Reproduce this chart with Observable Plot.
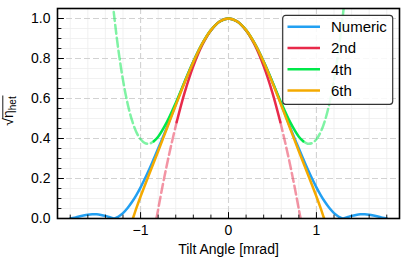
<!DOCTYPE html>
<html><head><meta charset="utf-8">
<script src="https://cdn.jsdelivr.net/npm/d3@7"></script>
<script src="https://cdn.jsdelivr.net/npm/@observablehq/plot@0.6"></script>
<style>body{margin:0;background:#fff;}</style>
</head><body><div id="chart"></div>
<script>
// ---- data ----
const seriesNames = ["Numeric", "2nd", "4th", "6th"];
const seriesColors = ["#22a0f2", "#e82a4a", "#00e84a", "#f4aa00"];
const xMajor = [-1, 0, 1];
const xMinor = [-1.8,-1.6,-1.4,-1.2,-0.8,-0.6,-0.4,-0.2,0.2,0.4,0.6,0.8,1.2,1.4,1.6,1.8];
const yMajor = [0, 0.2, 0.4, 0.6, 0.8, 1.0];
const yMinor = [0.05,0.1,0.15,0.25,0.3,0.35,0.45,0.5,0.55,0.65,0.7,0.75,0.85,0.9,0.95];
const xLabel = "Tilt Angle [mrad]";

const numeric = [[-1.8,0],[-1.75,0.004],[-1.7,0.010],[-1.65,0.015],[-1.6,0.019],[-1.55,0.021],[-1.5,0.021],[-1.45,0.018],[-1.4,0.013],[-1.35,0.006],[-1.3,0],[-1.25,0.010],[-1.2,0.027],[-1.15,0.051],[-1.1,0.081],[-1.05,0.116],[-1.0,0.156],[-0.95,0.200],[-0.9,0.247],[-0.8,0.350],[-0.7,0.457],[-0.6,0.570],[-0.5,0.682],[-0.4,0.785],[-0.3,0.873],[-0.2,0.941],[-0.1,0.985],[0,1],[0.1,0.985],[0.2,0.941],[0.3,0.873],[0.4,0.785],[0.5,0.682],[0.6,0.570],[0.7,0.457],[0.8,0.350],[0.9,0.247],[0.95,0.200],[1.0,0.156],[1.05,0.116],[1.1,0.081],[1.15,0.051],[1.2,0.027],[1.25,0.010],[1.3,0],[1.35,0.006],[1.4,0.013],[1.45,0.018],[1.5,0.021],[1.55,0.021],[1.6,0.019],[1.65,0.015],[1.7,0.010],[1.75,0.004],[1.8,0]];

const second = [[-0.59,0.481],[-0.5,0.628],[-0.4,0.762],[-0.3,0.866],[-0.2,0.940],[-0.1,0.985],[0,1],[0.1,0.985],[0.2,0.940],[0.3,0.866],[0.4,0.762],[0.5,0.628],[0.59,0.481]];
const secondDashLeft = [[-0.82,0],[-0.8,0.046],[-0.75,0.162],[-0.7,0.270],[-0.65,0.370],[-0.59,0.481]];
const secondDashRight = [[0.59,0.481],[0.65,0.370],[0.7,0.270],[0.75,0.162],[0.8,0.046],[0.82,0]];

const fourth = [[-0.85,0.386],[-0.8,0.409],[-0.7,0.483],[-0.6,0.578],[-0.5,0.683],[-0.4,0.784],[-0.3,0.873],[-0.2,0.942],[-0.1,0.985],[0,1],[0.1,0.985],[0.2,0.942],[0.3,0.873],[0.4,0.784],[0.5,0.683],[0.6,0.578],[0.7,0.483],[0.8,0.409],[0.85,0.386]];
const fourthDashLeft = [[-1.35,1.227],[-1.3,1.012],[-1.25,0.835],[-1.2,0.692],[-1.15,0.579],[-1.1,0.494],[-1.05,0.434],[-1.0,0.396],[-0.95,0.377],[-0.9,0.374],[-0.85,0.386]];
const fourthDashRight = [[0.85,0.386],[0.9,0.374],[0.95,0.377],[1.0,0.396],[1.05,0.434],[1.1,0.494],[1.15,0.579],[1.2,0.692],[1.25,0.835],[1.3,1.012],[1.35,1.227]];

const sixth = [[-1.088,0],[-1.08,0.010],[-1.05,0.049],[-1.0,0.110],[-0.9,0.224],[-0.8,0.336],[-0.7,0.451],[-0.6,0.566],[-0.5,0.679],[-0.4,0.783],[-0.3,0.873],[-0.2,0.942],[-0.1,0.985],[0,1],[0.1,0.985],[0.2,0.942],[0.3,0.873],[0.4,0.783],[0.5,0.679],[0.6,0.566],[0.7,0.451],[0.8,0.336],[0.9,0.224],[1.0,0.110],[1.05,0.049],[1.08,0.010],[1.088,0]];

// ---- chart ----
const FONT = "'Liberation Sans', Arial, Helvetica, sans-serif";
const LW = 2.5;
const DASH = "9,4";
const tickUp = {draw(ctx, l) { ctx.moveTo(0, 0); ctx.lineTo(0, -l); }};
const fmtX = d => d < 0 ? "\u2212" + (-d) : String(d);
const line = (data, color, extra = {}) => Plot.line(data, {x: d => d[0], y: d => d[1], stroke: color, strokeWidth: LW, curve: "catmull-rom", clip: true, ...extra});

const plot = Plot.plot({
  width: 408,
  height: 276,
  marginLeft: 57,
  marginRight: 9,
  marginTop: 8,
  marginBottom: 58,
  style: {fontFamily: FONT, fontSize: "14px", color: "#000", background: "#fff"},
  x: {domain: [-1.945, 1.945]},
  y: {domain: [0, 1.05]},
  marks: [
    Plot.ruleX(xMinor, {stroke: "#ededed", strokeWidth: 0.8}),
    Plot.ruleY(yMinor, {stroke: "#ededed", strokeWidth: 0.8}),
    Plot.ruleX(xMajor, {stroke: "#d2d2d2", strokeWidth: 1.1, strokeDasharray: "6,3"}),
    Plot.ruleY(yMajor, {stroke: "#d2d2d2", strokeWidth: 1.1, strokeDasharray: "6,3"}),
    line(numeric, seriesColors[0]),
    line(second, seriesColors[1]),
    line(secondDashLeft, seriesColors[1], {strokeOpacity: 0.5, strokeDasharray: DASH}),
    line(secondDashRight, seriesColors[1], {strokeOpacity: 0.5, strokeDasharray: DASH}),
    line(fourth, seriesColors[2]),
    line(fourthDashLeft, seriesColors[2], {strokeOpacity: 0.5, strokeDasharray: DASH}),
    line(fourthDashRight, seriesColors[2], {strokeOpacity: 0.5, strokeDasharray: DASH}),
    line(sixth, seriesColors[3]),
    Plot.frame({stroke: "#000", strokeWidth: 1.6}),
    Plot.vector(xMajor, {x: d => d, frameAnchor: "bottom", length: 6, rotate: 0, anchor: "start", shape: tickUp, stroke: "#000", strokeWidth: 1}),
    Plot.vector(xMinor, {x: d => d, frameAnchor: "bottom", length: 3.5, rotate: 0, anchor: "start", shape: tickUp, stroke: "#000", strokeWidth: 0.9}),
    Plot.vector(yMajor, {y: d => d, frameAnchor: "left", length: 6, rotate: 90, anchor: "start", shape: tickUp, stroke: "#000", strokeWidth: 1}),
    Plot.vector(yMinor, {y: d => d, frameAnchor: "left", length: 3.5, rotate: 90, anchor: "start", shape: tickUp, stroke: "#000", strokeWidth: 0.9}),
    Plot.axisX(xMajor, {tickSize: 0, tickPadding: 7, tickFormat: fmtX, label: null}),
    Plot.axisY(yMajor, {tickSize: 0, tickPadding: 7, tickFormat: d3.format(".1f"), label: null}),
    Plot.text([xLabel], {frameAnchor: "bottom", dy: 26, lineAnchor: "top", text: d => d, fontSize: 14})
  ]
});
document.getElementById("chart").appendChild(plot);

// ---- y-axis label: sqrt(eta_het) ----
const svg = d3.select(plot);
const yl = svg.append("g").attr("font-family", FONT).attr("font-size", 14).attr("fill", "#000").attr("text-anchor", "start");
const t1 = yl.append("text").attr("x", 0).attr("y", 0).attr("text-anchor", "start").text("\u221A");
const w1 = t1.node().getComputedTextLength();
const t2 = yl.append("text").attr("x", w1).attr("y", 0).attr("text-anchor", "start").text("\u03B7");
const w2 = t2.node().getComputedTextLength();
const t3 = yl.append("text").attr("x", w1 + w2).attr("y", 3).attr("text-anchor", "start").attr("font-size", 10).text("het");
const w3 = t3.node().getComputedTextLength();
yl.append("line").attr("x1", w1 - 0.6).attr("x2", w1 + w2 + w3 + 0.8).attr("y1", -10.2).attr("y2", -10.2).attr("stroke", "#000").attr("stroke-width", 0.9);
const W = w1 + w2 + w3;
yl.attr("transform", `translate(13,${111 + W / 2}) rotate(-90)`);

// ---- legend ----
const lg = svg.append("g").attr("font-family", FONT).attr("text-anchor", "start");
lg.append("rect").attr("x", 282.7).attr("y", 15.3).attr("width", 110).attr("height", 89).attr("rx", 3)
  .attr("fill", "#fff").attr("fill-opacity", 0.85).attr("stroke", "#333").attr("stroke-width", 1.2);
seriesNames.forEach((name, i) => {
  const yy = 26.7 + i * 21.3;
  lg.append("line").attr("x1", 287.5).attr("x2", 320).attr("y1", yy).attr("y2", yy)
    .attr("stroke", seriesColors[i]).attr("stroke-width", LW);
  lg.append("text").attr("x", 331).attr("y", yy + 5.4).attr("text-anchor", "start").attr("font-size", 15).attr("fill", "#000").text(name);
});
</script>
</body></html>
